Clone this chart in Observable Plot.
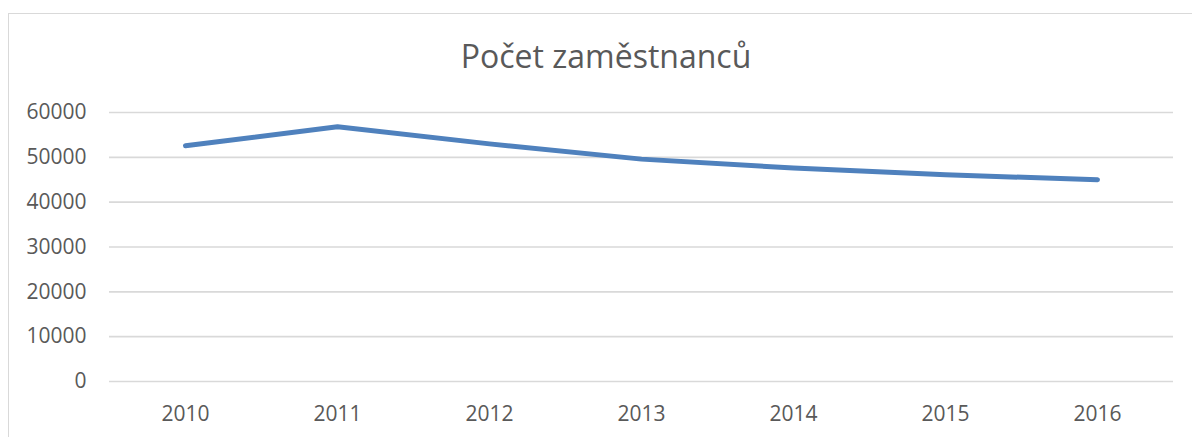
<!DOCTYPE html>
<html>
<head>
<meta charset="utf-8">
<script src="https://cdn.jsdelivr.net/npm/d3@7"></script>
<script src="https://cdn.jsdelivr.net/npm/@observablehq/plot@0.6"></script>
<style>
  html, body { margin: 0; padding: 0; background: #fff; }
  #wrap { position: relative; width: 1192px; height: 437px; overflow: hidden; }
  #frame { position: absolute; left: 8px; top: 13px; width: 1400px; height: 600px;
           border-top: 1.5px solid #d9d9d9; border-left: 1.5px solid #d9d9d9; }
  #title { position: absolute; left: 0; width: 1212px; top: 37px; text-align: center;
           font-family: "Open Sans", sans-serif; font-size: 32px; color: #595959; line-height: 1.2; }
  #chart { position: absolute; left: 0; top: 0; }
</style>
</head>
<body>
<div id="wrap">
  <div id="frame"></div>
  <div id="chart"></div>
  <div id="title">Počet zaměstnanců</div>
</div>
<script>
const years = ["2010", "2011", "2012", "2013", "2014", "2015", "2016"];
const employees = [52600, 56800, 53000, 49600, 47600, 46100, 45000];
const yTicks = [0, 10000, 20000, 30000, 40000, 50000, 60000];

const data = years.map((y, i) => ({year: y, value: employees[i]}));

const chart = Plot.plot({
  width: 1192,
  height: 437,
  marginLeft: 109,
  marginRight: 19,
  marginTop: 112,
  marginBottom: 56,
  style: {fontFamily: "'Open Sans', sans-serif", color: "#595959", background: "transparent"},
  x: {type: "point", domain: years, padding: 0.5, label: null},
  y: {domain: [0, 60000], label: null},
  marks: [
    Plot.gridY(yTicks, {stroke: "#d9d9d9", strokeOpacity: 1, strokeWidth: 1.6}),
    Plot.axisY(yTicks, {tickSize: 0, tickPadding: 23, tickFormat: d => String(d), label: null, fill: "#595959", fontSize: 21}),
    Plot.axisX({tickSize: 0, tickPadding: 25, label: null, fill: "#595959", fontSize: 21}),
    Plot.lineY(data, {x: "year", y: "value", stroke: "#4f81bd", strokeWidth: 5, strokeLinecap: "round", strokeLinejoin: "round"})
  ]
});
document.getElementById("chart").appendChild(chart);
</script>
</body>
</html>
